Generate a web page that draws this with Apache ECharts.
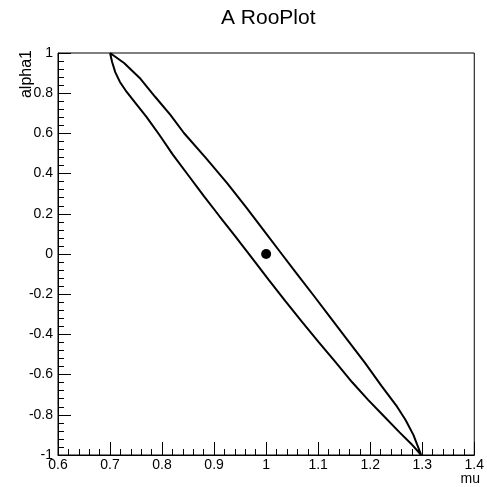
<!DOCTYPE html>
<html>
<head>
<meta charset="utf-8">
<script src="https://cdn.jsdelivr.net/npm/echarts@6/dist/echarts.min.js"></script>
<style>html,body{margin:0;padding:0;background:#fff}#c{width:487px;height:487px}</style>
</head>
<body>
<div id="c"></div>
<script>
// Contour (upper branch top->bottom, then lower branch bottom->top)
var contourMu = [0.700,0.727,0.757,0.787,0.816,0.842,0.884,0.925,0.961,0.995,1.027,1.058,1.092,1.124,1.158,1.190,1.222,1.252,1.268,1.283,1.298,
                 1.279,1.256,1.226,1.196,1.165,1.133,1.101,1.069,1.037,1.005,0.973,0.940,0.910,0.880,0.850,0.821,0.795,0.770,0.749,0.732,0.719,0.710,0.704,0.700];
var contourAlpha = [1.000,0.950,0.876,0.781,0.692,0.602,0.478,0.353,0.234,0.119,0.010,-0.095,-0.209,-0.318,-0.433,-0.542,-0.657,-0.761,-0.826,-0.900,-1.000,
                    -0.945,-0.886,-0.806,-0.726,-0.637,-0.537,-0.438,-0.338,-0.234,-0.129,-0.020,0.090,0.189,0.289,0.393,0.493,0.592,0.682,0.751,0.806,0.856,0.905,0.955,1.000];
var bestMu = [1.0];
var bestAlpha = [0.0];
var xMin = 0.6, xMax = 1.4, xStep = 0.1;
var yMin = -1, yMax = 1, yStep = 0.2;
var titleText = 'A RooPlot';
var xName = 'mu';
var yName = 'alpha1';

var contour = contourMu.map(function(m, i){ return [m, contourAlpha[i]]; });
var best = bestMu.map(function(m, i){ return [m, bestAlpha[i]]; });

var FONT = 'Liberation Sans';
var chart = echarts.init(document.getElementById('c'), null, {renderer:'canvas'});
chart.setOption({
  animation: false,
  backgroundColor: '#fff',
  title: {
    text: titleText, left: 216, top: 3,
    textStyle: {fontFamily: FONT, fontWeight: 'normal', fontSize: 21, color: '#000'}
  },
  grid: {left: 58, top: 53, width: 423, height: 402, show: true, borderColor: '#000', borderWidth: 1, backgroundColor: 'transparent'},
  graphic: [
    {type: 'text', x: 480, y: 479, z: 10,
     style: {text: xName, align: 'right', verticalAlign: 'middle', font: '14px "Liberation Sans"', fill: '#000'}},
    {type: 'text', x: 27, y: 50, rotation: Math.PI / 2, z: 10,
     style: {text: yName, align: 'right', verticalAlign: 'middle', font: '16px "Liberation Sans"', fill: '#000'}}
  ],
  xAxis: {
    type: 'value', min: xMin, max: xMax, interval: xStep,
    axisLine: {show: true, onZero: false, lineStyle: {color: '#000', width: 1}},
    axisTick: {show: true, inside: true, length: 13, lineStyle: {color: '#000', width: 1}},
    minorTick: {show: true, splitNumber: 5, length: 6, lineStyle: {color: '#000', width: 1}},
    splitLine: {show: false},
    axisLabel: {fontFamily: FONT, fontSize: 14, color: '#000', margin: 3, showMinLabel: true, showMaxLabel: true}
  },
  yAxis: {
    type: 'value', min: yMin, max: yMax, interval: yStep,
    axisLine: {show: true, onZero: false, lineStyle: {color: '#000', width: 1}},
    axisTick: {show: true, inside: true, length: 13, lineStyle: {color: '#000', width: 1}},
    minorTick: {show: true, splitNumber: 5, length: 6, lineStyle: {color: '#000', width: 1}},
    splitLine: {show: false},
    axisLabel: {fontFamily: FONT, fontSize: 14, color: '#000', margin: 5, showMinLabel: true, showMaxLabel: true}
  },
  series: [
    {type: 'line', data: contour, showSymbol: false, symbol: 'none', smooth: false,
     lineStyle: {color: '#000', width: 2}, z: 3},
    {type: 'scatter', data: best, symbol: 'circle', symbolSize: 10, itemStyle: {color: '#000', opacity: 1}, z: 4}
  ]
});
</script>
</body>
</html>
